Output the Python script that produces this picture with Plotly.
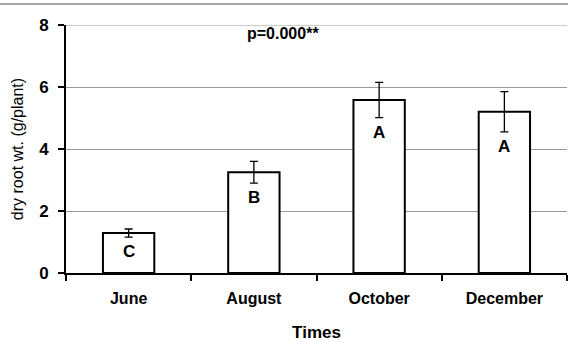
import plotly.graph_objects as go

categories = ["June", "August", "October", "December"]
values = [1.29, 3.25, 5.58, 5.2]
errors = [0.13, 0.35, 0.57, 0.65]
letters = ["C", "B", "A", "A"]
y_ticks = [0, 2, 4, 6, 8]

FONT = "Liberation Sans, Arial, sans-serif"

fig = go.Figure()
fig.add_trace(go.Bar(
    x=categories, y=values, width=0.41,
    marker=dict(color="white", line=dict(color="black", width=2)),
    error_y=dict(type="data", array=errors, visible=True, color="black",
                 thickness=1.3, width=4),
    showlegend=False,
))

annotations = []
for c, v, e, l in zip(categories, values, errors, letters):
    annotations.append(dict(x=c, y=v - e, text="<b>" + l + "</b>", showarrow=False,
                            yanchor="top", yshift=-3,
                            font=dict(family=FONT, size=17, color="black")))
annotations.append(dict(x=0.433, y=0.967, xref="paper", yref="paper",
                        text="<b>p=0.000**</b>", showarrow=False,
                        xanchor="center", yanchor="middle",
                        font=dict(family=FONT, size=16, color="black")))

fig.update_layout(
    width=568, height=342,
    margin=dict(l=66, r=1, t=25, b=69),
    plot_bgcolor="white", paper_bgcolor="white",
    font=dict(family=FONT, color="black"),
    annotations=annotations,
    shapes=[
        dict(type="line", xref="paper", yref="paper", x0=-0.2, x1=1.01,
             y0=1.085, y1=1.085, line=dict(color="#888888", width=1.5)),
        dict(type="line", xref="paper", yref="y", x0=0, x1=1, y0=8, y1=8,
             line=dict(color="#999999", width=1), layer="below"),
    ],
    xaxis=dict(
        showline=True, linecolor="black", linewidth=2,
        ticks="outside", tickson="boundaries", ticklen=6, tickwidth=2,
        tickcolor="black",
        tickfont=dict(family=FONT, size=16, color="black"),
        tickprefix="<b>", ticksuffix="</b>",
        ticklabelstandoff=10,
        automargin=False,
        title=dict(text="<b>Times</b>", font=dict(family=FONT, size=17), standoff=26),
        range=[-0.5, 3.5],
    ),
    yaxis=dict(
        range=[0, 8], tickvals=y_ticks,
        ticktext=["<b>%d</b>" % t for t in y_ticks],
        showline=True, linecolor="black", linewidth=2,
        ticks="outside", ticklen=6, tickwidth=2, tickcolor="black",
        tickfont=dict(family=FONT, size=17, color="black"),
        ticklabelstandoff=6,
        showgrid=True, gridcolor="#999999", gridwidth=1,
        zeroline=False,
        title=dict(text="dry root wt. (g/plant)", font=dict(family=FONT, size=16), standoff=12),
    ),
)

fig.write_html("out.html")
